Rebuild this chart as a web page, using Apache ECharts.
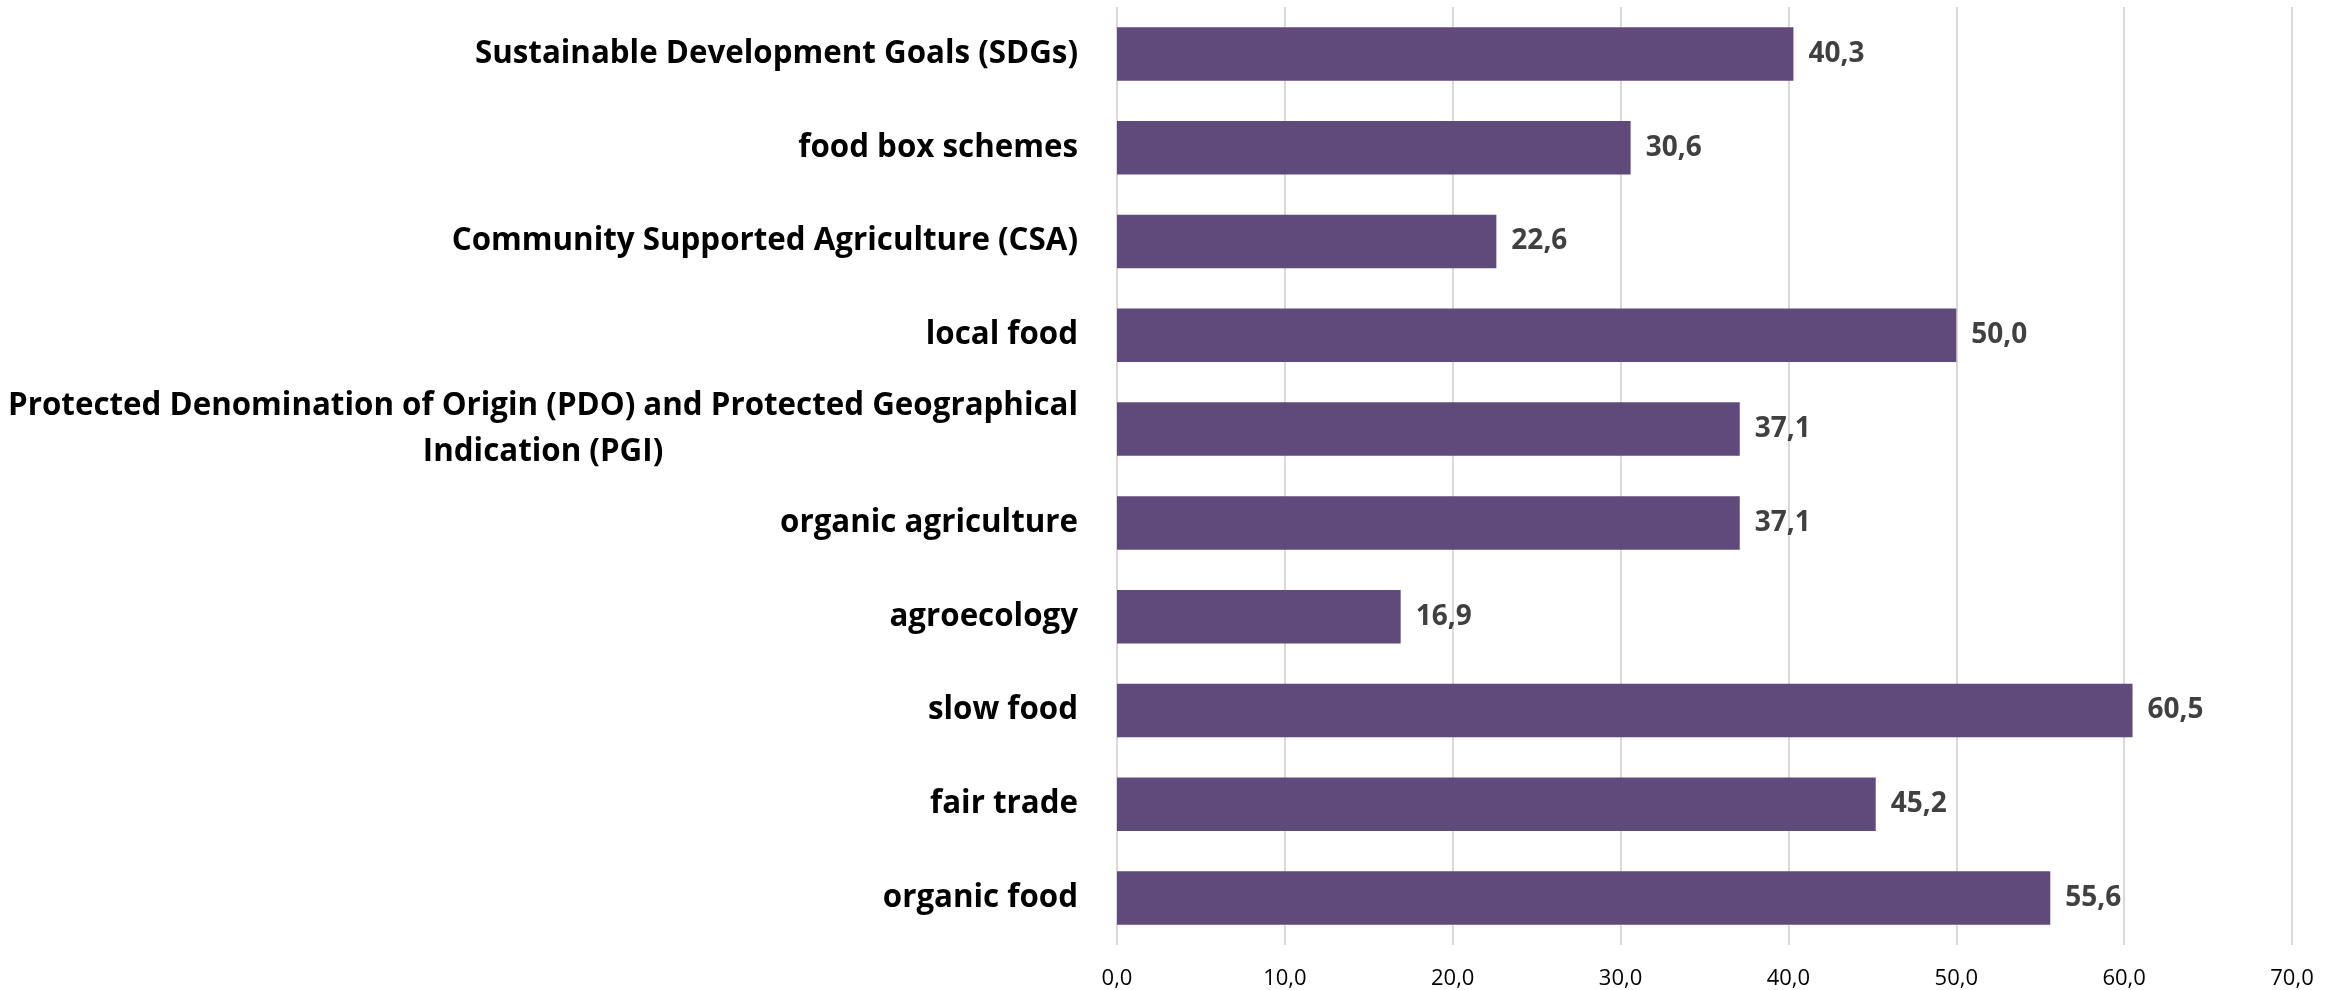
<!DOCTYPE html>
<html>
<head>
<meta charset="utf-8">
<script src="https://cdn.jsdelivr.net/npm/echarts@6/dist/echarts.min.js"></script>
<style>
  html, body { margin: 0; padding: 0; background: #fff; }
  #chart { width: 2341px; height: 990px; }
</style>
</head>
<body>
<div id="chart"></div>
<script>
  // categories listed top to bottom (y axis is inversed)
  let categories = [
    'Sustainable Development Goals (SDGs)',
    'food box schemes',
    'Community Supported Agriculture (CSA)',
    'local food',
    'Protected Denomination of Origin (PDO) and Protected Geographical\nIndication (PGI)',
    'organic agriculture',
    'agroecology',
    'slow food',
    'fair trade',
    'organic food'
  ];
  let values = [40.3, 30.6, 22.6, 50.0, 37.1, 37.1, 16.9, 60.5, 45.2, 55.6];
  let xTicks = [0, 10, 20, 30, 40, 50, 60, 70];

  let chart = echarts.init(document.getElementById('chart'));

  let fmt = (v) => v.toFixed(1).replace('.', ',');

  let option = {
    animation: false,
    grid: {
      left: 1117,
      right: 49,
      top: 7,
      bottom: 43,
      containLabel: false
    },
    xAxis: {
      type: 'value',
      min: xTicks[0],
      max: xTicks[xTicks.length - 1],
      interval: 10,
      axisLine: { show: false },
      axisTick: { show: false },
      splitLine: { show: true, lineStyle: { color: '#d9d9d9', width: 2 } },
      axisLabel: {
        margin: 23,
        fontFamily: 'Open Sans',
        fontSize: 22,
        color: '#000',
        formatter: (v) => fmt(v)
      }
    },
    yAxis: {
      type: 'category',
      inverse: true,
      data: categories,
      axisLine: { show: false },
      axisTick: { show: false },
      axisLabel: {
        margin: 39,
        formatter: (v) => v.split('\n').map((line) => '{c|' + line + '}').join('\n'),
        rich: {
          c: {
            align: 'center',
            fontFamily: 'Open Sans',
            fontWeight: 'bold',
            fontSize: 31.3,
            lineHeight: 46,
            color: '#000'
          }
        }
      }
    },
    series: [
      {
        type: 'bar',
        data: values,
        barCategoryGap: '43%',
        itemStyle: { color: '#604a7b' },
        label: {
          show: true,
          position: 'right',
          distance: 15,
          fontFamily: 'Open Sans',
          fontWeight: 'bold',
          fontSize: 28,
          color: '#404040',
          formatter: (p) => fmt(p.value)
        }
      }
    ]
  };

  chart.setOption(option);
</script>
</body>
</html>
